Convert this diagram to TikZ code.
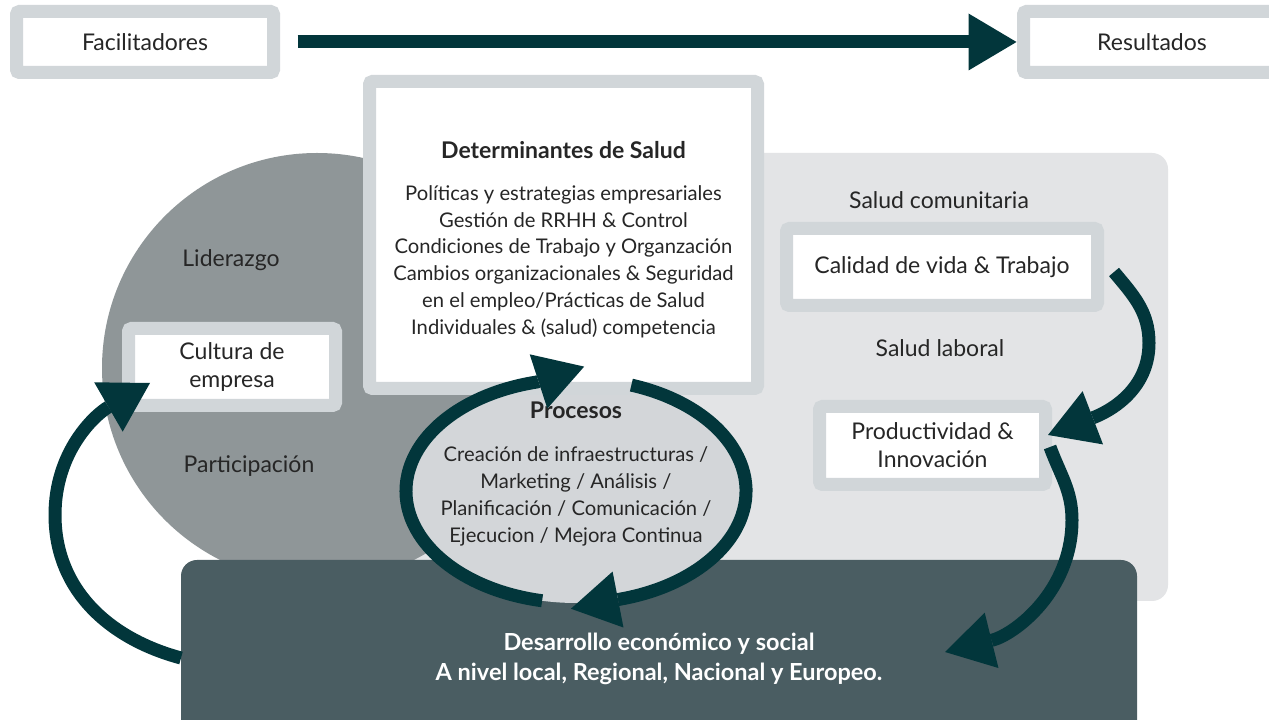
\documentclass[tikz,border=0pt]{standalone}
\usepackage{fontspec}
\setmainfont{Lato}
\usetikzlibrary{arrows.meta,shapes.geometric,positioning}

\definecolor{framegray}{HTML}{D1D6D9}
\definecolor{panelgray}{HTML}{E3E4E6}
\definecolor{circlegray}{HTML}{8F9698}
\definecolor{devteal}{HTML}{4A5D62}
\definecolor{arrowteal}{HTML}{02363B}
\definecolor{procgray}{HTML}{D3D6D9}
\definecolor{textgray}{HTML}{262626}

\newcommand{\labelsize}{\fontsize{23pt}{28pt}\selectfont}
\newcommand{\bodysize}{\fontsize{20.2pt}{26.7pt}\selectfont}
\newcommand{\headsize}{\fontsize{23pt}{26.7pt}\selectfont\bfseries}
\newcommand{\devsize}{\fontsize{23.5pt}{30pt}\selectfont\bfseries}

\tikzset{
  frame/.style={draw=framegray, fill=white, line width=13pt, rounded corners=3pt,
    inner sep=0pt, outer sep=0pt, align=center, text=textgray, font=\labelsize},
  tag/.style={text=textgray, font=\labelsize, align=center, inner sep=0pt},
  flow/.style={draw=arrowteal, line width=13pt,
    -{Triangle[length=48pt, width=57pt, line width=0pt]}},
  devbox/.style={fill=devteal, rounded corners=16pt, inner sep=0pt, outer sep=0pt,
    text=white, align=center, font=\devsize},
}

\begin{document}
\begin{tikzpicture}[x=1pt, y=1pt]
  % canvas
  \useasboundingbox (0,0) rectangle (1269,720);
  \fill[white] (0,0) rectangle (1269,720);

  % background zones
  \fill[panelgray, rounded corners=16pt] (380,119) rectangle (1168,567);
  \fill[circlegray] (317,352) circle[radius=215pt];
  \node[devbox, minimum width=956pt, minimum height=198pt] (dev) at (659,61)
    {Desarrollo económico y social\\A nivel local, Regional, Nacional y Europeo.};
  \node[ellipse, fill=procgray, inner sep=0pt, outer sep=0pt,
    minimum width=340pt, minimum height=224pt] (proc) at (576,229) {};

  % top row
  \node[frame, minimum width=257pt, minimum height=61pt] (fac) at (145,678) {Facilitadores};
  \node[frame, minimum width=257pt, minimum height=61pt, right=750pt of fac] (res) {Resultados};
  \draw[flow] ([xshift=24pt]fac.east) -- ([xshift=-7pt]res.west);

  % determinants
  \node[frame, minimum width=388pt, minimum height=307pt] (det) at (563.5,485) {};
  \node[tag, font=\bodysize] (dettext) at ([yshift=-4.5pt]det.center)
    {{\headsize Determinantes de Salud}\\[15.3pt]
     Políticas y estrategias empresariales\\
     Gestión de RRHH \& Control\\
     Condiciones de Trabajo y Organzación\\
     Cambios organizacionales \& Seguridad\\
     en el empleo/Prácticas de Salud\\
     Individuales \& (salud) competencia};

  % left zone
  \node[frame, minimum width=207pt, minimum height=77pt] (cult) at (232,353) {Cultura de\\empresa};
  \node[tag] (lid) at (231,460) {Liderazgo};
  \node[tag] (part) at (249,254) {Participación};

  % right zone
  \node[frame, minimum width=311pt, minimum height=77pt] (cal) at (942,453) {Calidad de vida \& Trabajo};
  \node[frame, minimum width=226pt, minimum height=78pt] (prod) at (932.5,274.5) {Productividad \&\\Innovación};
  \node[tag] (com) at (939,520) {Salud comunitaria};
  \node[tag] (lab) at (940,372) {Salud laboral};

  % processes
  \node[tag, font=\bodysize] (proctext) at ([yshift=17pt]proc.center)
    {{\headsize Procesos}\\[16.3pt]
     Creación de infraestructuras /\\
     Marketing / Análisis /\\
     Planificación / Comunicación /\\
     Ejecucion / Mejora Continua};

  % cycle round the processes
  \draw[flow] ([shift={(258.5:170pt and 112pt)}]proc.center)
    arc[start angle=258.5, end angle=103.4, x radius=170pt, y radius=112pt] -- ++(18:50pt);
  \draw[flow] ([shift={(71:170pt and 112pt)}]proc.center)
    arc[start angle=71, end angle=-75, x radius=170pt, y radius=112pt] -- ++(191:50pt);

  % outer links
  \draw[flow] ([yshift=1pt]dev.west) to[out=165,in=270] (55,205)
    to[out=90,in=210] ([shift={(21.5pt,22.5pt)}]cult.south west);
  \draw[flow] ([shift={(16.5pt,-5pt)}]cal.east) to[out=-50,in=90] (1149,377)
    to[out=270,in=21] ([shift={(2.5pt,10.5pt)}]prod.east);
  \draw[flow] ([shift={(4.5pt,-1.5pt)}]prod.east) to[out=-70,in=90] (1072,200)
    to[out=270,in=14] ([shift={(-192pt,7pt)}]dev.east);
\end{tikzpicture}
\end{document}
